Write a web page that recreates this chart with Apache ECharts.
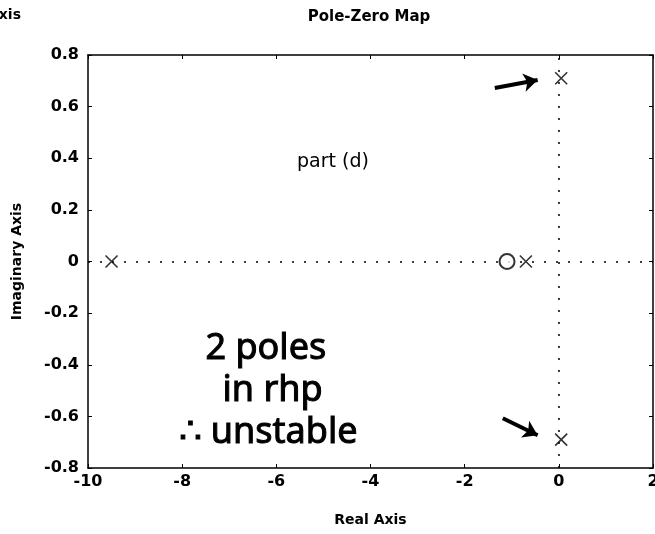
<!DOCTYPE html>
<html><head><meta charset="utf-8">
<script src="https://cdn.jsdelivr.net/npm/echarts@6/dist/echarts.min.js"></script>
<style>html,body{margin:0;padding:0;background:#fff}#c{width:655px;height:534px}</style>
</head><body><div id="c"></div>
<script>
// Data
const poles = [[-9.5, 0], [-0.7, 0], [0.05, 0.71], [0.05, -0.69]];
const zeros = [[-1.1, 0]];
const xTicks = {min: -10, max: 2, interval: 2};
const yTicks = {min: -0.8, max: 0.8, interval: 0.2};
const arrows = [
  [[-1.36, 0.672], [-0.45, 0.703]],
  [[-1.19, -0.607], [-0.45, -0.673]]
];
const noteLines = ['2 poles', 'in rhp', '∴ unstable'];

const font = '"DejaVu Sans", sans-serif';
const hand = '"Noto Sans", sans-serif';
const chart = echarts.init(document.getElementById('c'), null, {renderer: 'canvas'});
const axisCommon = {
  axisLine: {show: true, onZero: false, lineStyle: {color: '#000', width: 1.5}},
  axisTick: {show: true, inside: true, length: 4, lineStyle: {color: '#000'}},
  splitLine: {show: false}
};
chart.setOption({
  backgroundColor: '#fff',
  animation: false,
  title: {
    text: 'Pole-Zero Map', left: 364, top: 5, textAlign: 'center',
    textStyle: {fontFamily: font, fontWeight: 'bold', fontSize: 15, color: '#000'}
  },
  grid: {left: 88, right: 2, top: 55, bottom: 66, containLabel: false, outerBoundsMode: 'none'},
  xAxis: [
    Object.assign({type: 'value', position: 'bottom', min: xTicks.min, max: xTicks.max, interval: xTicks.interval,
      name: 'Real Axis', nameLocation: 'middle', nameGap: 45,
      nameTextStyle: {fontFamily: font, fontWeight: 'bold', fontSize: 14, color: '#000'},
      axisLabel: {fontFamily: font, fontWeight: 'bold', fontSize: 16, color: '#000', margin: 6, showMaxLabel: true}
    }, axisCommon),
    Object.assign({type: 'value', position: 'top', min: xTicks.min, max: xTicks.max, interval: xTicks.interval,
      axisLabel: {show: false}}, axisCommon)
  ],
  yAxis: [
    Object.assign({type: 'value', position: 'left', min: yTicks.min, max: yTicks.max, interval: yTicks.interval,
      name: 'Imaginary Axis', nameLocation: 'middle', nameGap: 64, nameRotate: 90,
      nameTextStyle: {fontFamily: font, fontWeight: 'bold', fontSize: 14, color: '#000'},
      axisLabel: {fontFamily: font, fontWeight: 'bold', fontSize: 16, color: '#000', margin: 9}
    }, axisCommon),
    Object.assign({type: 'value', position: 'right', min: yTicks.min, max: yTicks.max, interval: yTicks.interval,
      axisLabel: {show: false}}, axisCommon)
  ],
  series: [
    {
      type: 'scatter', name: 'poles', data: poles, z: 5,
      symbol: 'path://M0,0L10,10M10,0L0,10', symbolSize: 12,
      itemStyle: {color: 'rgba(0,0,0,0)', borderColor: '#000', borderWidth: 1.6},
      markLine: {
        silent: true, symbol: ['none', 'none'], label: {show: false},
        lineStyle: {color: '#000', type: [2, 10], width: 1.5},
        data: [{xAxis: 0}, {yAxis: 0}]
      }
    },
    {
      type: 'scatter', name: 'zeros', data: zeros, z: 5,
      symbol: 'emptyCircle', symbolSize: 15,
      itemStyle: {color: '#000', borderColor: '#000', borderWidth: 1.6}
    },
    {
      type: 'line', data: [],
      markLine: {
        silent: true, symbol: ['none', 'arrow'], symbolSize: 14, label: {show: false},
        lineStyle: {color: '#000', type: 'solid', width: 4},
        data: arrows.map(a => [{coord: a[0]}, {coord: a[1]}])
      }
    }
  ],
  graphic: [
    {type: 'text', left: -12, top: 8, style: {text: 'Axis', font: 'bold 14px ' + font, fill: '#000'}},
    {type: 'text', left: 297, top: 153, style: {text: 'part (d)', font: '19px ' + font, fill: '#000'}},
    {type: 'text', left: 205, top: 330, style: {text: noteLines[0], font: '36px ' + hand, fill: '#000', stroke: '#000', lineWidth: 1}},
    {type: 'text', left: 222, top: 372, style: {text: noteLines[1], font: '36px ' + hand, fill: '#000', stroke: '#000', lineWidth: 1}},
    {type: 'text', left: 178, top: 414, style: {text: noteLines[2], font: '36px ' + hand, fill: '#000', stroke: '#000', lineWidth: 1}}
  ]
});
</script></body></html>
